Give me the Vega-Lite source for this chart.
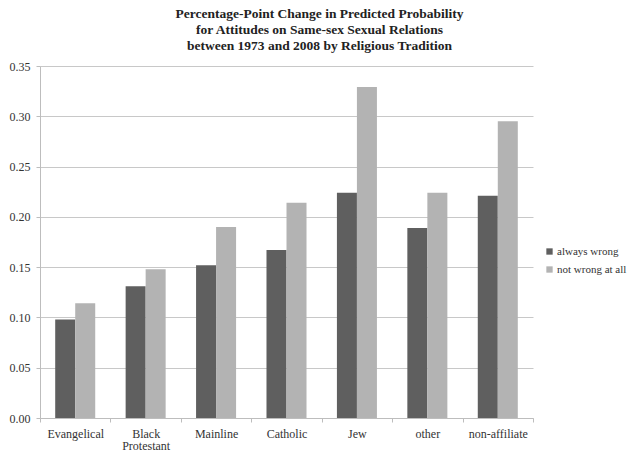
{
  "$schema": "https://vega.github.io/schema/vega-lite/v6.json",
  "autosize": "none",
  "width": 493,
  "height": 352,
  "padding": {"left": 40, "top": 66, "right": 107, "bottom": 47},
  "background": "white",
  "title": {
    "text": [
      "Percentage-Point Change in Predicted Probability",
      "for Attitudes on Same-sex Sexual Relations",
      "between 1973 and 2008 by Religious Tradition"
    ],
    "font": "Liberation Serif",
    "fontSize": 13.5,
    "fontWeight": "bold",
    "color": "#222222",
    "lineHeight": 16,
    "anchor": "middle",
    "dx": 33,
    "offset": 8
  },
  "data": {
    "values": [
      {"tradition": "Evangelical", "attitude": "always wrong", "change": 0.098},
      {"tradition": "Evangelical", "attitude": "not wrong at all", "change": 0.114},
      {"tradition": "Black Protestant", "attitude": "always wrong", "change": 0.131},
      {"tradition": "Black Protestant", "attitude": "not wrong at all", "change": 0.148},
      {"tradition": "Mainline", "attitude": "always wrong", "change": 0.152},
      {"tradition": "Mainline", "attitude": "not wrong at all", "change": 0.190},
      {"tradition": "Catholic", "attitude": "always wrong", "change": 0.167},
      {"tradition": "Catholic", "attitude": "not wrong at all", "change": 0.214},
      {"tradition": "Jew", "attitude": "always wrong", "change": 0.224},
      {"tradition": "Jew", "attitude": "not wrong at all", "change": 0.329},
      {"tradition": "other", "attitude": "always wrong", "change": 0.189},
      {"tradition": "other", "attitude": "not wrong at all", "change": 0.224},
      {"tradition": "non-affiliate", "attitude": "always wrong", "change": 0.221},
      {"tradition": "non-affiliate", "attitude": "not wrong at all", "change": 0.295}
    ]
  },
  "mark": {"type": "bar"},
  "encoding": {
    "x": {
      "field": "tradition",
      "type": "nominal",
      "sort": null,
      "scale": {"paddingInner": 0, "paddingOuter": 0},
      "axis": {
        "title": null,
        "labelAngle": 0,
        "tickBand": "extent",
        "labelExpr": "split(datum.label, ' ')",
        "labelLineHeight": 12.5,
        "labelPadding": 6,
        "tickSize": 4
      }
    },
    "xOffset": {
      "field": "attitude",
      "type": "nominal",
      "scale": {"paddingInner": 0, "paddingOuter": 0.76}
    },
    "y": {
      "field": "change",
      "type": "quantitative",
      "scale": {"domain": [0, 0.35], "nice": false},
      "axis": {
        "title": null,
        "format": ".2f",
        "values": [0, 0.05, 0.1, 0.15, 0.2, 0.25, 0.3, 0.35],
        "tickSize": 4,
        "labelPadding": 6
      }
    },
    "color": {
      "field": "attitude",
      "type": "nominal",
      "scale": {"range": ["#5f5f5f", "#b3b3b3"]},
      "legend": {
        "title": null,
        "orient": "none",
        "legendX": 504,
        "legendY": 180,
        "symbolType": "square",
        "symbolSize": 40,
        "symbolStrokeWidth": 0,
        "labelOffset": 2,
        "rowPadding": 6,
        "labelFont": "Liberation Serif",
        "labelFontSize": 11,
        "labelColor": "#333333"
      }
    }
  },
  "config": {
    "view": {"stroke": null},
    "axis": {
      "labelFont": "Liberation Serif",
      "labelFontSize": 12,
      "labelColor": "#333333",
      "domainColor": "#bdbdbd",
      "tickColor": "#bdbdbd",
      "gridColor": "#c8c8c8"
    },
    "axisX": {"grid": false},
    "legend": {"labelFont": "Liberation Serif", "labelFontSize": 11}
  }
}
